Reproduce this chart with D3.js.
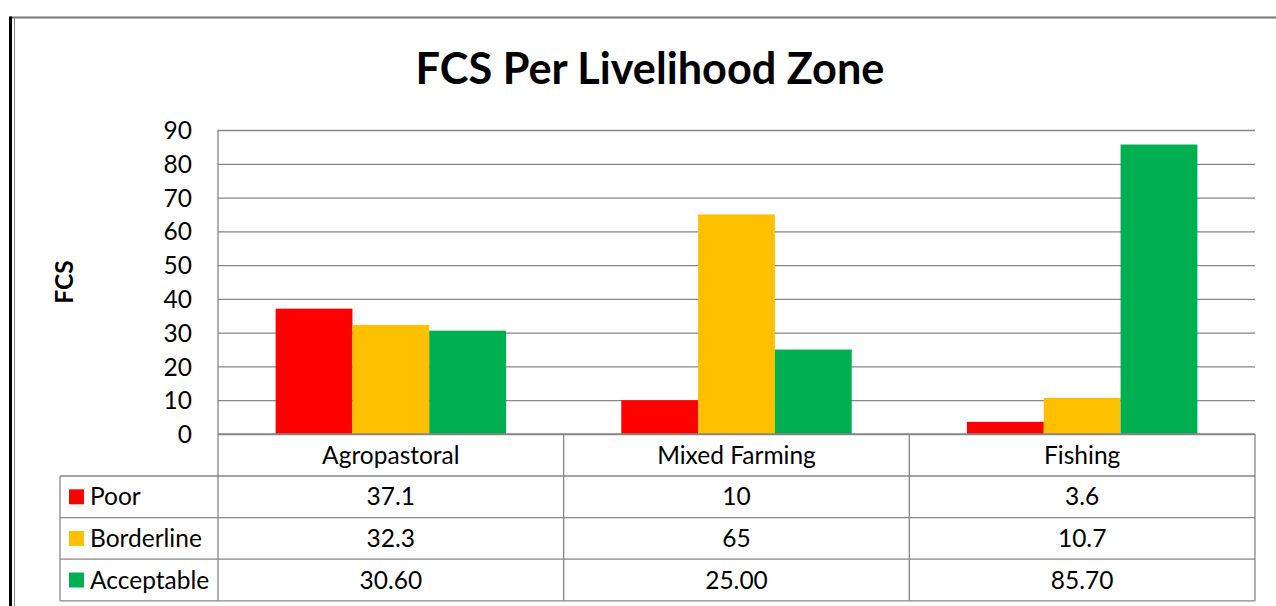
<!DOCTYPE html>
<html><head><meta charset="utf-8">
<script src="https://cdn.jsdelivr.net/npm/d3@7"></script>
<style>html,body{margin:0;padding:0;background:#fff;}svg{display:block;}</style>
</head><body>
<svg id="c" width="1276" height="606"></svg>
<script>
const categories = ["Agropastoral", "Mixed Farming", "Fishing"];
const seriesNames = ["Poor", "Borderline", "Acceptable"];
const poorValues = [37.1, 10, 3.6];
const borderlineValues = [32.3, 65, 10.7];
const acceptableValues = [30.6, 25.0, 85.7];
const poorLabels = ["37.1", "10", "3.6"];
const borderlineLabels = ["32.3", "65", "10.7"];
const acceptableLabels = ["30.60", "25.00", "85.70"];
const yTicks = [0, 10, 20, 30, 40, 50, 60, 70, 80, 90];
const colors = ["#FF0000", "#FFC000", "#00B050"];

const seriesValues = [poorValues, borderlineValues, acceptableValues];
const seriesLabels = [poorLabels, borderlineLabels, acceptableLabels];

const FONT = "Lato, 'Open Sans', sans-serif";
const FS = 24.5;
const svg = d3.select("#c");
const grid = "#878787";

const plotL = 218, plotR = 1255, plotT = 130, plotB = 434;
const tableL = 60;
const rowH = 41.6;
const headerB = 476;

const x = d3.scaleBand().domain(categories).range([plotL, plotR]).paddingInner(0).paddingOuter(0);
const inner = d3.scaleBand().domain(seriesNames).range([0, x.bandwidth()]).paddingInner(0).paddingOuter(0.75);
const y = d3.scaleLinear().domain([0, 90]).range([plotB, plotT]);

// outer frame
svg.append("line").attr("x1", 10).attr("x2", 1276).attr("y1", 17.5).attr("y2", 17.5).attr("stroke", "#777").attr("stroke-width", 2);
svg.append("line").attr("x1", 10.5).attr("x2", 10.5).attr("y1", 16.5).attr("y2", 606).attr("stroke", "#000").attr("stroke-width", 3);
svg.append("line").attr("x1", 14.5).attr("x2", 14.5).attr("y1", 18).attr("y2", 606).attr("stroke", "#888").attr("stroke-width", 1);

// title
const title = svg.append("text").attr("x", 650).attr("y", 84).attr("text-anchor", "middle")
  .attr("font-family", FONT).attr("font-weight", "bold").attr("font-size", 40).attr("fill", "#000")
  .text("FCS Per Livelihood Zone");
const tw = title.node().getComputedTextLength();
title.attr("font-size", 40 * 469 / tw);

// gridlines
const yAxis = d3.axisLeft(y).tickValues(yTicks).tickSize(-(plotR - plotL)).tickPadding(26).tickFormat(d3.format("d"));
const ga = svg.append("g").attr("transform", `translate(${plotL},0)`).call(yAxis);
ga.select(".domain").remove();
ga.selectAll(".tick line").attr("stroke", grid).attr("stroke-width", 1.3);
ga.selectAll(".tick text").attr("font-family", FONT).attr("font-size", FS).attr("fill", "#000").attr("dy", "0.35em");

// y axis label
svg.append("text").attr("transform", "translate(73,282) rotate(-90)").attr("text-anchor", "middle")
  .attr("font-family", FONT).attr("font-weight", "bold").attr("font-size", FS).attr("fill", "#000").text("FCS");

// bars
const gBars = svg.append("g");
seriesNames.forEach((s, si) => {
  gBars.selectAll(null).data(categories).enter().append("rect")
    .attr("x", (c) => x(c) + inner(s))
    .attr("width", inner.bandwidth())
    .attr("y", (c, i) => y(seriesValues[si][i]))
    .attr("height", (c, i) => y(0) - y(seriesValues[si][i]))
    .attr("fill", colors[si]);
});

// table lines
const tl = svg.append("g").attr("stroke", grid).attr("stroke-width", 1.3);
tl.append("line").attr("x1", plotL).attr("x2", plotR).attr("y1", plotB).attr("y2", plotB);
for (let r = 0; r <= 3; r++) {
  const yy = headerB + r * rowH;
  tl.append("line").attr("x1", tableL).attr("x2", plotR).attr("y1", yy).attr("y2", yy);
}
tl.append("line").attr("x1", tableL).attr("x2", tableL).attr("y1", headerB).attr("y2", headerB + 3 * rowH);
tl.append("line").attr("x1", plotL).attr("x2", plotL).attr("y1", plotT).attr("y2", headerB + 3 * rowH);
categories.forEach((c) => {
  tl.append("line").attr("x1", x(c) + x.bandwidth()).attr("x2", x(c) + x.bandwidth()).attr("y1", plotB).attr("y2", headerB + 3 * rowH);
});

// table text
const tt = svg.append("g").attr("font-family", FONT).attr("font-size", FS).attr("fill", "#000");
tt.selectAll(null).data(categories).enter().append("text")
  .attr("x", (c) => x(c) + x.bandwidth() / 2).attr("y", (plotB + headerB) / 2).attr("dy", "0.35em")
  .attr("text-anchor", "middle").text((c) => c);
seriesNames.forEach((s, si) => {
  const cy = headerB + si * rowH + rowH / 2;
  svg.append("rect").attr("x", 69).attr("y", cy - 7.5).attr("width", 15).attr("height", 15).attr("fill", colors[si]);
  tt.append("text").attr("x", 90).attr("y", cy).attr("dy", "0.35em").text(s);
  tt.selectAll(null).data(categories).enter().append("text")
    .attr("x", (c) => x(c) + x.bandwidth() / 2).attr("y", cy).attr("dy", "0.35em")
    .attr("text-anchor", "middle").text((c, i) => seriesLabels[si][i]);
});
</script>
</body></html>
